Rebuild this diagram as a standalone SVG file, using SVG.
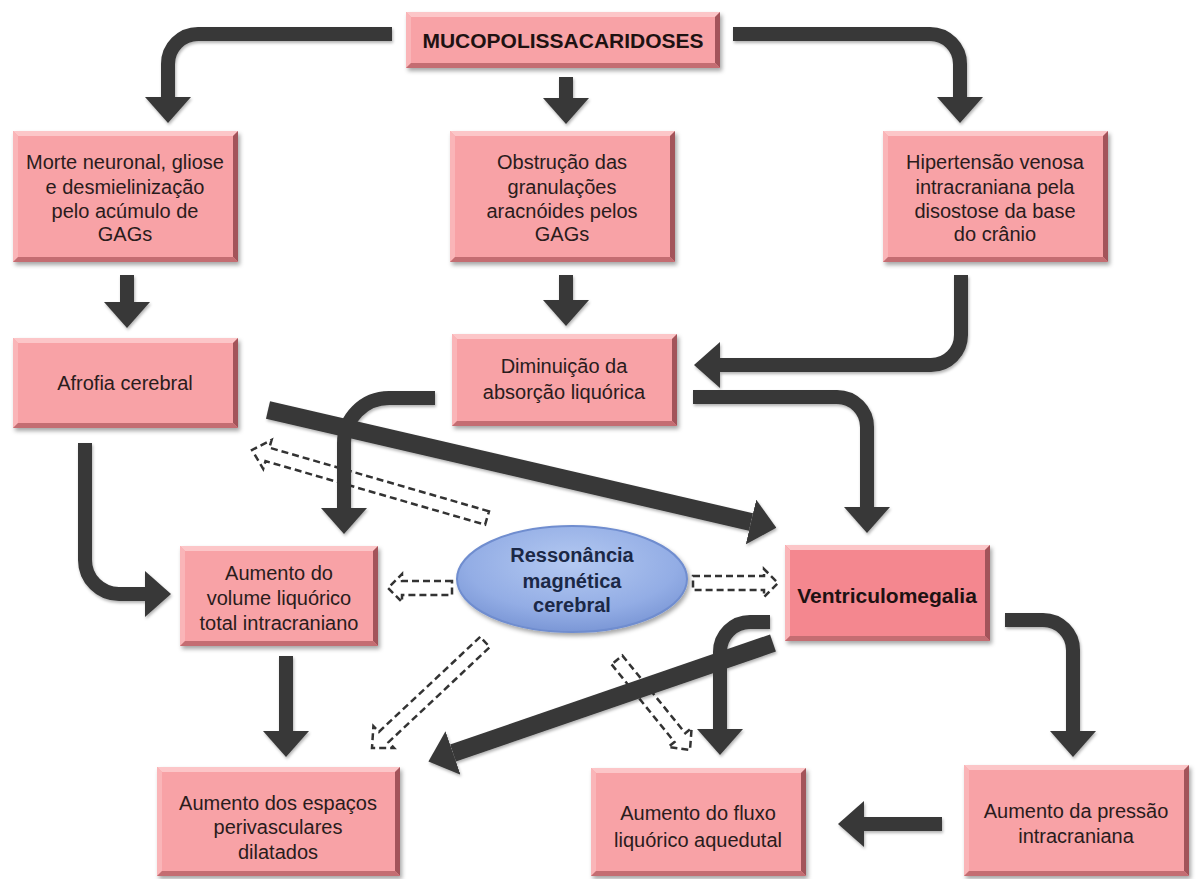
<svg xmlns="http://www.w3.org/2000/svg" width="1197" height="879" viewBox="0 0 1197 879">
<defs>
<style>
.bx{fill:#f8a2a6}
.bxv{fill:#f4878f}
.hl{fill:#fcc6c8}
.hl2{fill:#fab5b8}
.dk{fill:#a3545a}
.dk2{fill:#c46d72}
.t{font-family:"Liberation Sans",Arial,sans-serif;font-size:20px;fill:#2a1c1c;text-anchor:middle}
.tb{font-family:"Liberation Sans",Arial,sans-serif;font-size:21px;font-weight:bold;fill:#1e1212;text-anchor:middle}
.te{font-family:"Liberation Sans",Arial,sans-serif;font-size:20px;font-weight:bold;fill:#1b2846;text-anchor:middle}
.arr{fill:none;stroke:#383838;stroke-width:14}
.arr2{fill:none;stroke:#383838;stroke-width:18}
.dsh{fill:#ffffff;stroke:#333333;stroke-width:2.5;stroke-dasharray:7 4;stroke-linejoin:miter}
</style>
<filter id="sh" x="-10%" y="-10%" width="125%" height="135%">
<feDropShadow dx="2" dy="3" stdDeviation="2" flood-color="#000" flood-opacity="0.35"/>
</filter>
<filter id="ash" x="-10%" y="-10%" width="125%" height="135%">
<feDropShadow dx="1" dy="2" stdDeviation="1.5" flood-color="#000" flood-opacity="0.3"/>
</filter>
<marker id="ah" viewBox="0 0 26 46" markerWidth="26" markerHeight="46" refX="0" refY="23" orient="auto" markerUnits="userSpaceOnUse">
<path d="M0,0 L26,23 L0,46 z" fill="#383838"/>
</marker>
<radialGradient id="eg" cx="50%" cy="35%" r="65%">
<stop offset="0" stop-color="#b4c9f1"/>
<stop offset="0.7" stop-color="#93ade5"/>
<stop offset="1" stop-color="#7b97d6"/>
</radialGradient>
</defs>
<rect width="1197" height="879" fill="#ffffff"/>

<g id="dashed-connectors">
<polygon class="dsh" points="489.0,511.3 269.4,447.7 271.6,440.0 252,450 263.2,468.8 265.5,461.1 485.1,524.7"/>
<polygon class="dsh" points="452,581 402,581 402,574 388,588 402,602 402,595 452,595"/>
<polygon class="dsh" points="693,576 764,576 764,569 778,583 764,597 764,590 693,590"/>
<polygon class="dsh" points="480.2,636.9 378.9,731.9 373.4,726.1 372,748 394.0,748.0 388.5,742.2 489.8,647.1"/>
<polygon class="dsh" points="611.6,664.4 674.5,742.0 668.3,747.0 690,750 691.6,728.1 685.3,733.2 622.4,655.6"/>
</g>

<g id="connectors" filter="url(#ash)">
<path class="arr" d="M392,34 H198 A30,30 0 0 0 168,64 V97" marker-end="url(#ah)"/>
<path class="arr" d="M566,77 V98" marker-end="url(#ah)"/>
<path class="arr" d="M733,34 H930 A30,30 0 0 1 960,64 V97" marker-end="url(#ah)"/>
<path class="arr" d="M127,275 V302" marker-end="url(#ah)"/>
<path class="arr" d="M566,275 V300" marker-end="url(#ah)"/>
<path class="arr" d="M961,275 V335 A30,30 0 0 1 931,365 H720" marker-end="url(#ah)"/>
<path class="arr" d="M693,397 H837 A30,30 0 0 1 867,427 V507" marker-end="url(#ah)"/>
<path class="arr" d="M435,398 H389 A45,45 0 0 0 344,443 V508" marker-end="url(#ah)"/>
<path class="arr" d="M85,443 V560 A34,34 0 0 0 119,594 H145" marker-end="url(#ah)"/>
<path class="arr2" d="M268,410 L751,522" marker-end="url(#ah)"/>
<path class="arr2" d="M773,643 L453,753" marker-end="url(#ah)"/>
<path class="arr" d="M770,622 H750 A30,30 0 0 0 720,652 V729" marker-end="url(#ah)"/>
<path class="arr" d="M1005,620 H1043 A30,30 0 0 1 1073,650 V731" marker-end="url(#ah)"/>
<path class="arr" d="M942,824 H864" marker-end="url(#ah)"/>
<path class="arr" d="M286,656 V731" marker-end="url(#ah)"/>
</g>

<g id="n-mps">
<rect class="bx" x="406" y="12" width="314" height="56" filter="url(#sh)"/>
<polygon class="hl" points="406,12 720,12 715,17 411,17"/>
<polygon class="hl2" points="406,12 411,17 411,63 406,68"/>
<polygon class="dk" points="720,12 720,68 715,63 715,17"/>
<polygon class="dk2" points="406,68 720,68 715,63 411,63"/>
<text class="tb" x="563" y="48">MUCOPOLISSACARIDOSES</text>
</g>

<g id="n-morte">
<rect class="bx" x="13" y="131" width="225" height="131" filter="url(#sh)"/>
<polygon class="hl" points="13,131 238,131 233,136 18,136"/>
<polygon class="hl2" points="13,131 18,136 18,257 13,262"/>
<polygon class="dk" points="238,131 238,262 233,257 233,136"/>
<polygon class="dk2" points="13,262 238,262 233,257 18,257"/>
<text class="t" x="125" y="169">Morte neuronal,  gliose</text>
<text class="t" x="125" y="194">e desmielinização</text>
<text class="t" x="125" y="218">pelo acúmulo  de</text>
<text class="t" x="125" y="241">GAGs</text>
</g>

<g id="n-obstrucao">
<rect class="bx" x="450" y="131" width="225" height="131" filter="url(#sh)"/>
<polygon class="hl" points="450,131 675,131 670,136 455,136"/>
<polygon class="hl2" points="450,131 455,136 455,257 450,262"/>
<polygon class="dk" points="675,131 675,262 670,257 670,136"/>
<polygon class="dk2" points="450,262 675,262 670,257 455,257"/>
<text class="t" x="562" y="169">Obstrução das</text>
<text class="t" x="562" y="194">granulações</text>
<text class="t" x="562" y="218">aracnóides pelos</text>
<text class="t" x="562" y="241">GAGs</text>
</g>

<g id="n-hipertensao">
<rect class="bx" x="883" y="131" width="225" height="131" filter="url(#sh)"/>
<polygon class="hl" points="883,131 1108,131 1103,136 888,136"/>
<polygon class="hl2" points="883,131 888,136 888,257 883,262"/>
<polygon class="dk" points="1108,131 1108,262 1103,257 1103,136"/>
<polygon class="dk2" points="883,262 1108,262 1103,257 888,257"/>
<text class="t" x="995" y="169">Hipertensão venosa</text>
<text class="t" x="995" y="194">intracraniana pela</text>
<text class="t" x="995" y="218">disostose da base</text>
<text class="t" x="995" y="241">do crânio</text>
</g>

<g id="n-atrofia">
<rect class="bx" x="13" y="338" width="225" height="90" filter="url(#sh)"/>
<polygon class="hl" points="13,338 238,338 233,343 18,343"/>
<polygon class="hl2" points="13,338 18,343 18,423 13,428"/>
<polygon class="dk" points="238,338 238,428 233,423 233,343"/>
<polygon class="dk2" points="13,428 238,428 233,423 18,423"/>
<text class="t" x="125" y="390">Afrofia cerebral</text>
</g>

<g id="n-diminuicao">
<rect class="bx" x="452" y="334" width="225" height="92" filter="url(#sh)"/>
<polygon class="hl" points="452,334 677,334 672,339 457,339"/>
<polygon class="hl2" points="452,334 457,339 457,421 452,426"/>
<polygon class="dk" points="677,334 677,426 672,421 672,339"/>
<polygon class="dk2" points="452,426 677,426 672,421 457,421"/>
<text class="t" x="564" y="373">Diminuição da</text>
<text class="t" x="564" y="399">absorção liquórica</text>
</g>

<g id="n-volume">
<rect class="bx" x="180" y="546" width="198" height="100" filter="url(#sh)"/>
<polygon class="hl" points="180,546 378,546 373,551 185,551"/>
<polygon class="hl2" points="180,546 185,551 185,641 180,646"/>
<polygon class="dk" points="378,546 378,646 373,641 373,551"/>
<polygon class="dk2" points="180,646 378,646 373,641 185,641"/>
<text class="t" x="279" y="580">Aumento do</text>
<text class="t" x="279" y="605">volume liquórico</text>
<text class="t" x="279" y="630">total intracraniano</text>
</g>

<g id="n-rm">
<ellipse cx="572" cy="579" rx="115" ry="53" fill="url(#eg)" stroke="#6f8dcf" stroke-width="2" filter="url(#sh)"/>
<text class="te" x="572" y="562">Ressonância</text>
<text class="te" x="572" y="588">magnética</text>
<text class="te" x="572" y="612">cerebral</text>
</g>

<g id="n-ventriculomegalia">
<rect class="bxv" x="785" y="545" width="205" height="96" filter="url(#sh)"/>
<polygon class="hl" points="785,545 990,545 985,550 790,550"/>
<polygon class="hl2" points="785,545 790,550 790,636 785,641"/>
<polygon class="dk" points="990,545 990,641 985,636 985,550"/>
<polygon class="dk2" points="785,641 990,641 985,636 790,636"/>
<text class="tb" x="887" y="603">Ventriculomegalia</text>
</g>

<g id="n-espacos">
<rect class="bx" x="157" y="767" width="243" height="109" filter="url(#sh)"/>
<polygon class="hl" points="157,767 400,767 395,772 162,772"/>
<polygon class="hl2" points="157,767 162,772 162,871 157,876"/>
<polygon class="dk" points="400,767 400,876 395,871 395,772"/>
<polygon class="dk2" points="157,876 400,876 395,871 162,871"/>
<text class="t" x="278" y="810">Aumento dos espaços</text>
<text class="t" x="278" y="834">perivasculares</text>
<text class="t" x="278" y="859">dilatados</text>
</g>

<g id="n-fluxo">
<rect class="bx" x="591" y="768" width="215" height="108" filter="url(#sh)"/>
<polygon class="hl" points="591,768 806,768 801,773 596,773"/>
<polygon class="hl2" points="591,768 596,773 596,871 591,876"/>
<polygon class="dk" points="806,768 806,876 801,871 801,773"/>
<polygon class="dk2" points="591,876 806,876 801,871 596,871"/>
<text class="t" x="698" y="820">Aumento do fluxo</text>
<text class="t" x="698" y="847">liquórico aquedutal</text>
</g>

<g id="n-pressao">
<rect class="bx" x="964" y="765" width="225" height="111" filter="url(#sh)"/>
<polygon class="hl" points="964,765 1189,765 1184,770 969,770"/>
<polygon class="hl2" points="964,765 969,770 969,871 964,876"/>
<polygon class="dk" points="1189,765 1189,876 1184,871 1184,770"/>
<polygon class="dk2" points="964,876 1189,876 1184,871 969,871"/>
<text class="t" x="1076" y="818">Aumento da pressão</text>
<text class="t" x="1076" y="843">intracraniana</text>
</g>
</svg>
